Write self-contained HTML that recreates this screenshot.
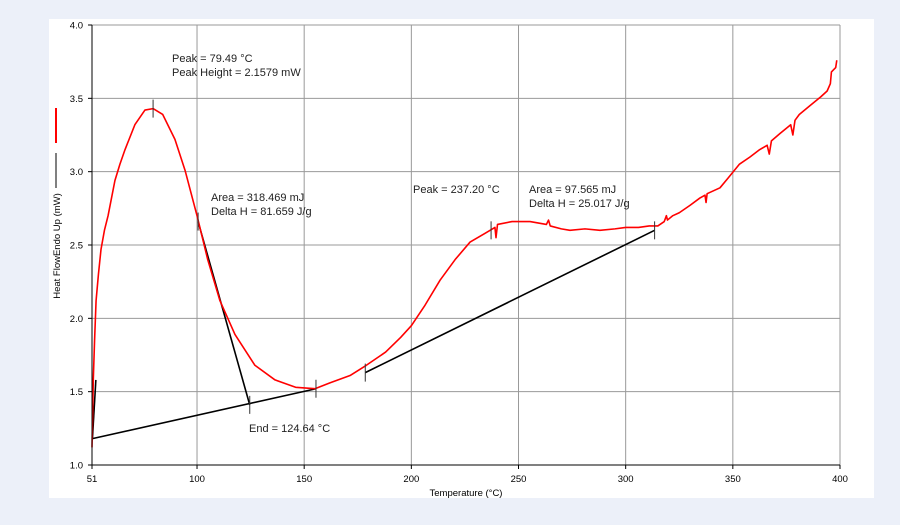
<!DOCTYPE html>
<html><head><meta charset="utf-8"><style>
html,body{margin:0;padding:0;background:#ecf0f9;width:900px;height:525px;overflow:hidden}
svg{display:block;font-family:"Liberation Sans",sans-serif}
</style></head><body>
<svg id="chart" width="900" height="525">
<rect x="49" y="19" width="825" height="479" fill="#fff"/>
<g id="grid"></g>
<g id="marks"></g>
<g id="axes"></g>
<line x1="56" y1="108" x2="56" y2="143" stroke="#f00" stroke-width="2"/>
<line x1="56" y1="153" x2="56" y2="188" stroke="#555" stroke-width="1.5"/>
<text transform="translate(60,246) rotate(-90)" font-size="9.5" text-anchor="middle" fill="#000">Heat FlowEndo Up (mW)</text>
<text x="466" y="496" font-size="9.5" text-anchor="middle">Temperature (°C)</text>
<g font-size="11" fill="#222">
<text x="172" y="62">Peak = 79.49 °C</text>
<text x="172" y="76">Peak Height = 2.1579 mW</text>
<text x="211" y="201">Area = 318.469 mJ</text>
<text x="211" y="215">Delta H = 81.659 J/g</text>
<text x="249" y="432">End = 124.64 °C</text>
<text x="413" y="193">Peak = 237.20 °C</text>
<text x="529" y="193">Area = 97.565 mJ</text>
<text x="529" y="207">Delta H = 25.017 J/g</text>
</g>
</svg>
<script>
const xTicks=[51,100,150,200,250,300,350,400];
const yTicks=[1.0,1.5,2.0,2.5,3.0,3.5,4.0];
const temps=[51,51.3,51.6,52.2,52.9,54,55.2,56.8,58.5,61.7,64,66.4,71,75.7,79.5,84,89.7,94.4,100,105,110.7,117.7,127,136.4,146,155,162,171.4,179,188,195,200,206.4,213.4,220.4,227.4,234.4,239,239.5,240.2,247,255.4,263,264,264.8,270,274,281,288,295,300,306,311,315,318,319,319.5,322,325,330,334.6,337,337.5,338,344,348,353,358,362.5,366,367,368,372,377,378,379,381,386,391,394,395.5,396,398,398.5];
const flows=[1.12,1.35,1.58,1.85,2.12,2.3,2.47,2.6,2.7,2.94,3.05,3.15,3.32,3.42,3.43,3.39,3.22,3.01,2.70,2.40,2.12,1.89,1.68,1.58,1.53,1.52,1.56,1.61,1.68,1.77,1.87,1.95,2.09,2.26,2.40,2.52,2.58,2.62,2.55,2.64,2.66,2.66,2.64,2.67,2.63,2.61,2.60,2.61,2.60,2.61,2.62,2.62,2.63,2.63,2.66,2.70,2.67,2.70,2.72,2.77,2.82,2.84,2.79,2.85,2.89,2.96,3.05,3.10,3.15,3.18,3.12,3.21,3.26,3.32,3.25,3.35,3.39,3.45,3.51,3.55,3.60,3.68,3.71,3.76];
const baseT=[[51.2,155.5],[100.5,124.6],[51.2,52.8],[178.5,313.5]];
const baseF=[[1.18,1.52],[2.66,1.41],[1.18,1.58],[1.63,2.60]];
const markT=[79.5,100.5,124.6,155.5,178.5,237.2,313.5];
const markF=[3.43,2.66,1.41,1.52,1.63,2.60,2.60];
const X0=92,X1=840,Y0=465,Y1=25;
const sx=v=>X0+(v-51)*(X1-X0)/349;
const sy=v=>Y0-(v-1)*(Y0-Y1)/3;
const NS="http://www.w3.org/2000/svg";
function mk(tag,attrs,parent){const e=document.createElementNS(NS,tag);for(const k in attrs)e.setAttribute(k,attrs[k]);document.getElementById(parent).appendChild(e);return e;}
xTicks.forEach((t,i)=>{
 if(i>0){const g=mk('line',{x1:sx(t),x2:sx(t),y1:Y1,y2:Y0,stroke:'#999','stroke-width':1},'grid');
 
 }
 const tk=mk('line',{x1:sx(t),x2:sx(t),y1:Y0,y2:Y0+4,stroke:'#000'},'axes');
 
 
 const l=mk('text',{x:sx(t),y:Y0+17,'font-size':9.5,'text-anchor':'middle'},'axes');l.textContent=t;
 
 
});
yTicks.forEach((t,i)=>{
 if(i>0){const g=mk('line',{x1:X0,x2:X1,y1:sy(t),y2:sy(t),stroke:'#999','stroke-width':1},'grid');
 
 }
 const tk=mk('line',{x1:X0-4,x2:X0,y1:sy(t),y2:sy(t),stroke:'#000'},'axes');
 
 
 const l=mk('text',{x:X0-9,y:sy(t)+3.5,'font-size':9.5,'text-anchor':'end'},'axes');l.textContent=t.toFixed(1);
 
 
});
const ax=mk('path',{d:`M${X0},${Y1}V${Y0}H${X1}`,stroke:'#000',fill:'none'},'axes');


baseT.forEach((b,i)=>{
 const l=mk('line',{x1:sx(b[0]),y1:sy(baseF[i][0]),x2:sx(b[1]),y2:sy(baseF[i][1]),stroke:'#000','stroke-width':1.6},'marks');
 
 
});
const pl=mk('polyline',{points:temps.map((t,i)=>sx(t)+','+sy(flows[i])).join(' '),stroke:'#f00','stroke-width':1.6,fill:'none','stroke-linejoin':'round'},'marks');


markT.forEach((t,i)=>{
 const m=mk('line',{x1:sx(t),x2:sx(t),y1:sy(markF[i])-9,y2:sy(markF[i])+9,stroke:'#333','stroke-width':1},'marks');
 
 
});
</script>
</body></html>
